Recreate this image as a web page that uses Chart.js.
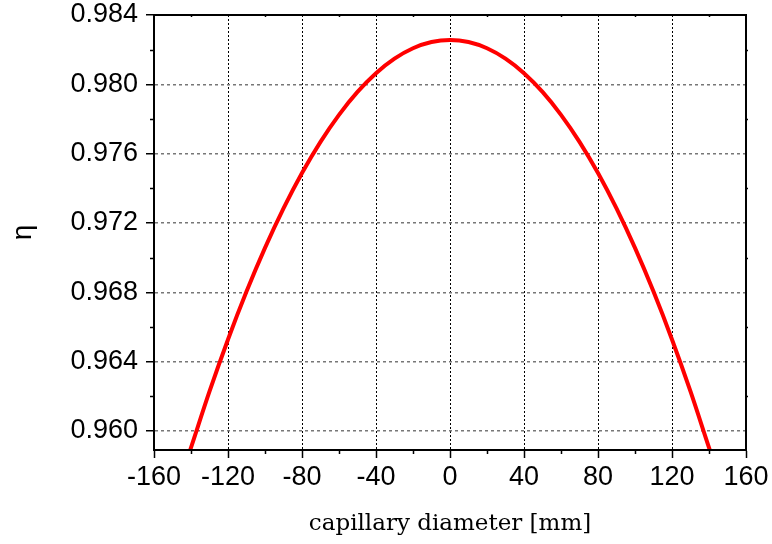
<!DOCTYPE html>
<html>
<head>
<meta charset="utf-8">
<script src="https://cdn.jsdelivr.net/npm/chart.js@4"></script>
<style>
  html, body { margin: 0; padding: 0; background: #fff; }
  #wrap { width: 772px; height: 544px; position: relative; }
</style>
</head>
<body>
<div id="wrap"><canvas id="chart"></canvas></div>
<script>
// capillary diameter [mm] vs efficiency eta
const diameters = [-142, -140, -130, -120, -110, -100, -90, -80, -70, -60, -50, -40, -30, -20, -10,
  0, 10, 20, 30, 40, 50, 60, 70, 80, 90, 100, 110, 120, 130, 140, 142]
const eta = [0.9584, 0.95904, 0.96228, 0.96528, 0.96804, 0.97056, 0.97284, 0.97488, 0.97668, 0.97824, 0.97956, 0.98064, 0.98148, 0.98208, 0.98244,
  0.98256, 0.98244, 0.98208, 0.98148, 0.98064, 0.97956, 0.97824, 0.97668, 0.97488, 0.97284, 0.97056, 0.96804, 0.96528, 0.96228, 0.95904, 0.9584]
const xTicks = [-160, -120, -80, -40, 0, 40, 80, 120, 160]
const yTicks = [0.960, 0.964, 0.968, 0.972, 0.976, 0.980, 0.984]

const tickFont = { family: '"Liberation Sans", Arial, sans-serif', size: 27 }

// frame on top/right plus the short minor ticks between the labelled ones
const frameAndMinor = {
  id: 'frameAndMinor',
  afterDraw (chart) {
    const { ctx, chartArea: a, scales: { x, y } } = chart
    ctx.save()
    ctx.strokeStyle = '#000'
    ctx.lineWidth = 2
    ctx.strokeRect(a.left, a.top, a.right - a.left, a.bottom - a.top)
    ctx.lineWidth = 1.5
    ctx.beginPath()
    for (let i = 0; i < xTicks.length - 1; i++) {
      const px = Math.round(x.getPixelForValue((xTicks[i] + xTicks[i + 1]) / 2)) + 0.5
      ctx.moveTo(px, a.bottom); ctx.lineTo(px, a.bottom + 4)
      ctx.moveTo(px, a.top); ctx.lineTo(px, a.top + 2)
    }
    for (let i = 0; i < yTicks.length - 1; i++) {
      const py = Math.round(y.getPixelForValue((yTicks[i] + yTicks[i + 1]) / 2)) + 0.5
      ctx.moveTo(a.left, py); ctx.lineTo(a.left - 4, py)
      ctx.moveTo(a.right, py); ctx.lineTo(a.right + 2, py)
    }
    ctx.stroke()
    ctx.restore()
  }
}

const isEdge = (scale, v) => v === scale.min || v === scale.max

new Chart(document.getElementById('chart'), {
  type: 'line',
  data: {
    datasets: [{
      data: diameters.map((d, i) => ({ x: d, y: eta[i] })),
      borderColor: '#ff0000',
      borderWidth: 4,
      pointRadius: 0,
      cubicInterpolationMode: 'monotone',
      clip: 0
    }]
  },
  options: {
    responsive: true,
    maintainAspectRatio: false,
    animation: false,
    layout: { padding: { top: 15, right: 26, left: 0, bottom: 0 } },
    plugins: { legend: { display: false }, tooltip: { enabled: false } },
    scales: {
      x: {
        type: 'linear',
        min: -160,
        max: 160,
        afterFit (s) { s.height = 94; s.paddingLeft = 0; s.paddingRight = 0 },
        ticks: {
          stepSize: 40,
          color: '#000',
          font: tickFont,
          padding: 3,
          maxRotation: 0
        },
        grid: {
          color: (c) => (c.tick && isEdge(c.scale, c.tick.value)) ? 'rgba(0,0,0,0)' : '#000',
          lineWidth: 1,
          tickLength: 8,
          tickColor: '#000',
          tickWidth: 1.5
        },
        border: { color: '#000', width: 2, dash: [2, 2] },
        title: {
          display: true,
          text: 'capillary diameter [mm]',
          color: '#000',
          font: { family: '"DejaVu Serif", "Liberation Serif", serif', size: 23 },
          padding: { top: 10, bottom: 6 }
        }
      },
      y: {
        type: 'linear',
        min: 0.9589,
        max: 0.984,
        afterFit (s) { s.width = 154; s.paddingTop = 0; s.paddingBottom = 0 },
        ticks: {
          stepSize: 0.004,
          includeBounds: false,
          color: '#000',
          font: tickFont,
          padding: 8,
          callback: (v) => v.toFixed(3)
        },
        grid: {
          color: (c) => (c.tick && isEdge(c.scale, c.tick.value)) ? 'rgba(0,0,0,0)' : '#777',
          lineWidth: 1.5,
          tickLength: 8,
          tickColor: '#000',
          tickWidth: 1.5
        },
        border: { color: '#000', width: 2, dash: [3, 3] },
        title: {
          display: true,
          text: 'η',
          color: '#000',
          font: { family: '"Liberation Sans", Arial, sans-serif', size: 28 },
          padding: { top: 6, bottom: 0 }
        }
      }
    }
  },
  plugins: [frameAndMinor]
})
</script>
</body>
</html>
